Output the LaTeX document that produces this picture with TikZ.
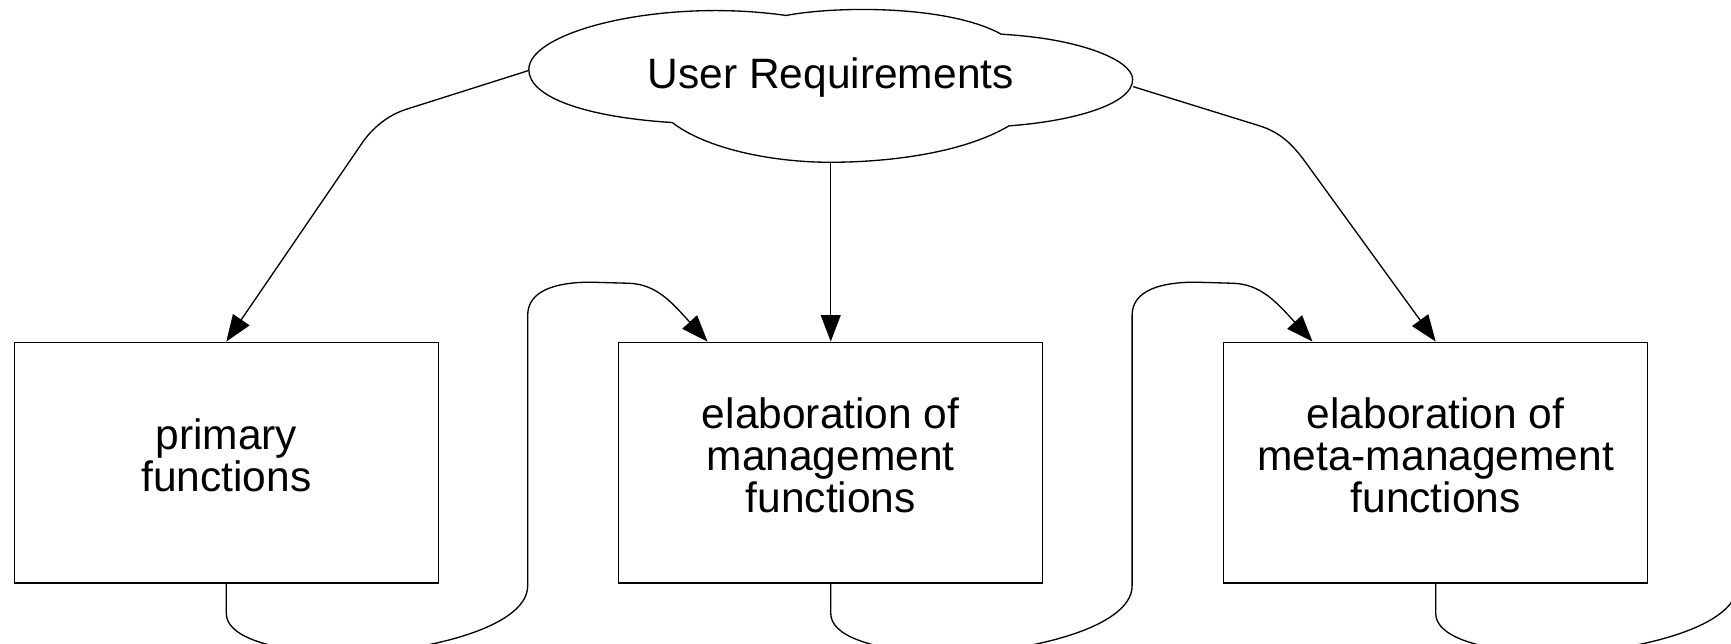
\documentclass[tikz,border=0pt]{standalone}
\usepackage{fontspec}
\setmainfont{Liberation Sans}
\usetikzlibrary{arrows.meta,calc}

\begin{document}
\begin{tikzpicture}[
x=0.5pt, y=-0.5pt,
line width=0.6pt,
>={Triangle[length=12pt,width=9pt]},
func/.style={rectangle, draw=black, minimum width=192pt, minimum height=109pt, align=center, text depth=7pt, font=\fontsize{19.25}{19}\selectfont},
req/.style={align=center, font=\fontsize{19.25}{19}\selectfont},
link/.style={->},
]
\useasboundingbox (0,0) rectangle (1568,583);
\clip (0,0) rectangle (1568,583);

% the cloud
\draw (609,111) .. controls (530,106) and (479,88) .. (479,63)
	.. controls (479,28) and (600,-2) .. (712,14)
	.. controls (760,5) and (860,5) .. (907,31)
	.. controls (980,35) and (1026,55) .. (1026,72)
	.. controls (1026,95) and (970,110) .. (914,114)
	.. controls (870,140) and (800,147) .. (752,147)
	.. controls (700,147) and (640,135) .. (609,111) -- cycle;
\node[req] (user) at (752.5,70) {User Requirements};
\coordinate (userW) at (478.5,64);
\coordinate (userE) at (1026.5,78.5);
\coordinate (userS) at (752.5,147);

% the three boxes
\node[func] (prim) at (205,419) {primary\\functions};
\node[func] (mgmt) at (752.5,419) {elaboration of\\management\\functions};
\node[func] (meta) at (1300.5,419) {elaboration of\\meta-management\\functions};
\coordinate (mgmtin) at ($(mgmt.north west)+(81,0)$);
\coordinate (metain) at ($(meta.north west)+(81,0)$);
\coordinate (metaout) at ($(meta.south)+(273,-245)$);

\draw[link] (userW) -- (368,99) .. controls (351,104.5) and (337,116) .. (327,131) -- (prim.north);
\draw[link] (userS) -- (mgmt.north);
\draw[link] (userE) -- (1141,114) .. controls (1160,120) and (1171,131) .. (1182.6,147) -- (meta.north);

% loops under the boxes
\draw[link] (prim.south) -- ++(0,27) .. controls +(0,20) and +(-65,-4) .. ++(100,37)
	.. controls +(70,0) and +(0,40) .. ++(173,-62) -- ++(0,-245)
	.. controls +(0,-23) and +(-30,0) .. ++(57,-30) -- ++(35,1)
	.. controls +(25,1) and +(-32,-35) .. (mgmtin);
\draw[link] (mgmt.south) -- ++(0,27) .. controls +(0,20) and +(-65,-4) .. ++(100,37)
	.. controls +(70,0) and +(0,40) .. ++(173,-62) -- ++(0,-245)
	.. controls +(0,-23) and +(-30,0) .. ++(57,-30) -- ++(35,1)
	.. controls +(25,1) and +(-32,-35) .. (metain);
\draw (meta.south) -- ++(0,27) .. controls +(0,20) and +(-65,-4) .. ++(100,37)
	.. controls +(70,0) and +(0,40) .. ++(173,-62) -- (metaout);
\end{tikzpicture}
\end{document}
